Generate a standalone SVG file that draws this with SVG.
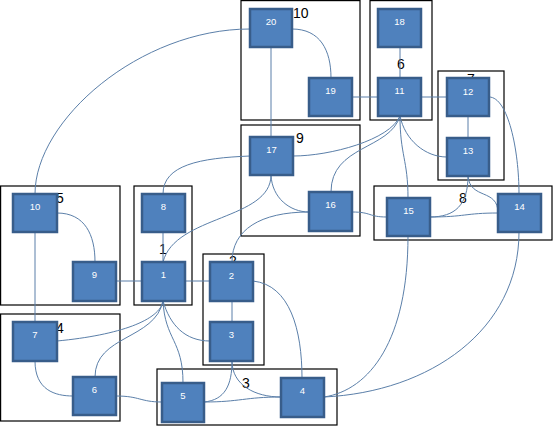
<svg xmlns="http://www.w3.org/2000/svg" width="555" height="427" viewBox="0 0 555 427">
<style>
.box{fill:none;stroke:#000;stroke-width:1.2}
.glabel{font-family:"Liberation Sans",Arial,sans-serif;font-size:14px;fill:#000}
.edge{fill:none;stroke:#5B7FA9;stroke-width:1}
.node rect{fill:#4F81BD;stroke:#385D8A;stroke-width:2.5}
.node text{font-family:"Liberation Sans",Arial,sans-serif;font-size:9.5px;fill:#fff;text-anchor:middle}
</style>
<rect width="555" height="427" fill="#fff"/>
<g id="groups">
<rect class="box" x="241" y="0.6" width="119" height="119.4"/>
<rect class="box" x="370" y="0.6" width="62" height="119.4"/>
<rect class="box" x="438" y="71" width="66" height="109"/>
<rect class="box" x="241" y="125" width="119" height="111"/>
<rect class="box" x="374" y="186" width="178" height="54"/>
<rect class="box" x="0.6" y="186" width="119.4" height="119"/>
<rect class="box" x="134" y="186" width="58" height="119"/>
<rect class="box" x="203" y="254" width="61" height="111"/>
<rect class="box" x="0.6" y="314" width="119.4" height="107"/>
<rect class="box" x="157" y="369" width="180" height="56"/>
<text class="glabel" x="293" y="18">10</text>
<text class="glabel" x="397" y="69">6</text>
<text class="glabel" x="467" y="84">7</text>
<text class="glabel" x="296" y="143">9</text>
<text class="glabel" x="459" y="203">8</text>
<text class="glabel" x="56" y="203">5</text>
<text class="glabel" x="159" y="254">1</text>
<text class="glabel" x="229" y="266">2</text>
<text class="glabel" x="56" y="333">4</text>
<text class="glabel" x="242" y="388">3</text>
</g>
<g id="connectors">
<path class="edge" d="M250,29 C140,29 35,120 35,194"/>
<path class="edge" d="M271,47 L271,137"/>
<path class="edge" d="M292,29 C320,29 331,50 331,78"/>
<path class="edge" d="M352,97 L378,97"/>
<path class="edge" d="M400,47 L400,78"/>
<path class="edge" d="M421,97 L447,97"/>
<path class="edge" d="M468,116 L468,138"/>
<path class="edge" d="M489,97 C508,97 519,150 519,194"/>
<path class="edge" d="M400,116 C405,140 425,157 447,157"/>
<path class="edge" d="M400,116 C400,155 408,160 408,198"/>
<path class="edge" d="M400,116 C390,140 330,156 293,156"/>
<path class="edge" d="M400,116 C390,150 331,145 331,192"/>
<path class="edge" d="M250,156 C200,158 163,165 163,194"/>
<path class="edge" d="M271,175 C272,198 290,212 309,212"/>
<path class="edge" d="M271,175 C271,220 175,215 163,262"/>
<path class="edge" d="M309,212 C260,212 232,230 232,262"/>
<path class="edge" d="M352,212 C372,212 368,217 387,217"/>
<path class="edge" d="M430,217 C455,217 468,205 468,176"/>
<path class="edge" d="M430,217 C465,217 465,213 498,213"/>
<path class="edge" d="M468,176 C470,200 498,188 498,213"/>
<path class="edge" d="M519,232 C519,330 430,392 324,397"/>
<path class="edge" d="M408,236 C408,340 370,390 324,397"/>
<path class="edge" d="M253,281 C290,285 302,330 302,378"/>
<path class="edge" d="M232,301 L232,322"/>
<path class="edge" d="M185,281 L210,281"/>
<path class="edge" d="M116,281 L142,281"/>
<path class="edge" d="M163,232 L163,262"/>
<path class="edge" d="M57,213 C85,213 95,235 95,262"/>
<path class="edge" d="M35,232 L35,322"/>
<path class="edge" d="M35,361 C35,390 55,396 73,396"/>
<path class="edge" d="M57,341 C120,335 160,320 163,301"/>
<path class="edge" d="M95,377 C95,335 155,340 163,301"/>
<path class="edge" d="M163,301 C165,340 183,340 183,383"/>
<path class="edge" d="M163,301 C170,325 185,341 210,341"/>
<path class="edge" d="M116,396 C140,396 140,402 162,402"/>
<path class="edge" d="M204,402 C225,400 232,385 232,361"/>
<path class="edge" d="M204,402 C240,402 245,397 281,397"/>
<path class="edge" d="M232,361 C232,385 255,397 281,397"/>
</g>
<g id="n20" class="node"><rect x="250" y="9" width="42" height="38"/><text x="271" y="25">20</text></g>
<g id="n18" class="node"><rect x="378" y="9" width="43" height="38"/><text x="399.5" y="25">18</text></g>
<g id="n19" class="node"><rect x="309" y="78" width="43" height="38"/><text x="330.5" y="94">19</text></g>
<g id="n11" class="node"><rect x="378" y="78" width="43" height="38"/><text x="399.5" y="94">11</text></g>
<g id="n12" class="node"><rect x="447" y="78" width="42" height="38"/><text x="468" y="95">12</text></g>
<g id="n13" class="node"><rect x="447" y="138" width="42" height="38"/><text x="468" y="154">13</text></g>
<g id="n17" class="node"><rect x="250" y="137" width="43" height="38"/><text x="271.5" y="153">17</text></g>
<g id="n16" class="node"><rect x="309" y="192" width="43" height="39"/><text x="330.5" y="208">16</text></g>
<g id="n15" class="node"><rect x="387" y="198" width="43" height="38"/><text x="408.5" y="214">15</text></g>
<g id="n14" class="node"><rect x="498" y="194" width="43" height="38"/><text x="519.5" y="210">14</text></g>
<g id="n10" class="node"><rect x="13" y="194" width="44" height="38"/><text x="35" y="210">10</text></g>
<g id="n8" class="node"><rect x="142" y="194" width="43" height="38"/><text x="163.5" y="210">8</text></g>
<g id="n9" class="node"><rect x="73" y="262" width="43" height="39"/><text x="94.5" y="278">9</text></g>
<g id="n1" class="node"><rect x="142" y="262" width="43" height="39"/><text x="163.5" y="278">1</text></g>
<g id="n2" class="node"><rect x="210" y="262" width="43" height="39"/><text x="231.5" y="279">2</text></g>
<g id="n3" class="node"><rect x="210" y="322" width="43" height="39"/><text x="231.5" y="338">3</text></g>
<g id="n7" class="node"><rect x="13" y="322" width="44" height="39"/><text x="35" y="338">7</text></g>
<g id="n6" class="node"><rect x="73" y="377" width="43" height="38"/><text x="94.5" y="393">6</text></g>
<g id="n5" class="node"><rect x="162" y="383" width="42" height="39"/><text x="183" y="399">5</text></g>
<g id="n4" class="node"><rect x="281" y="378" width="43" height="39"/><text x="302.5" y="394">4</text></g>
</svg>
